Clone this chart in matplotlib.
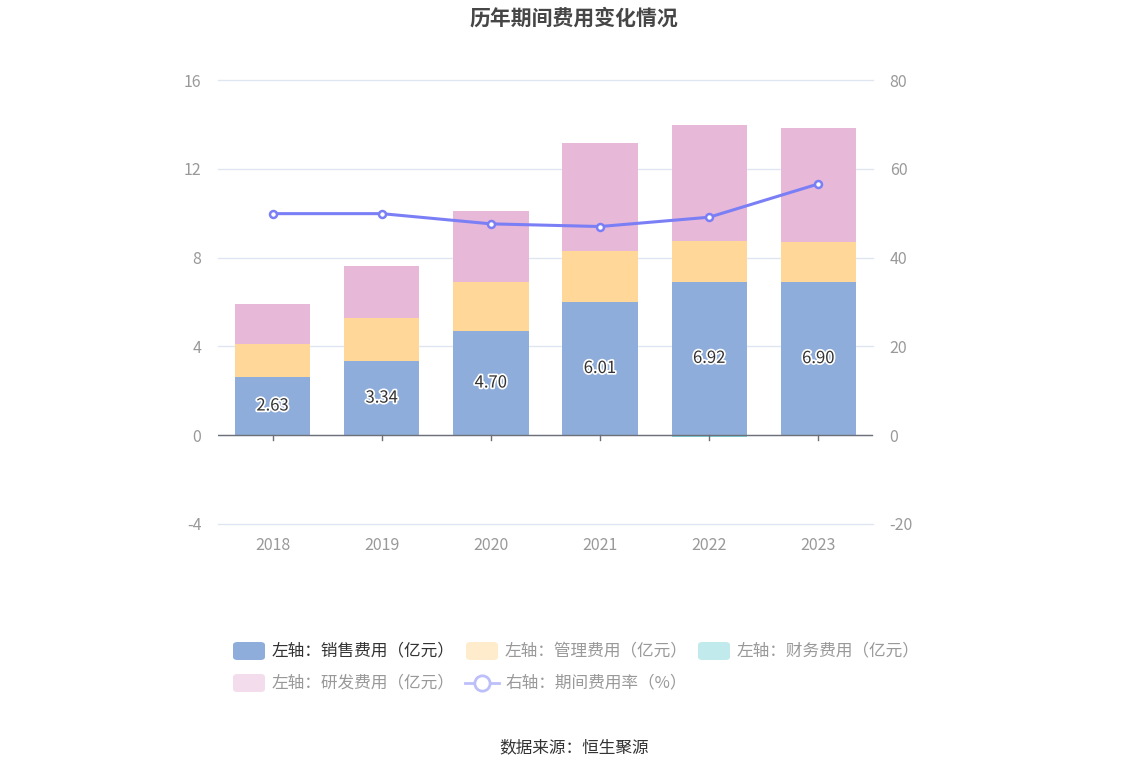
import numpy as np
import matplotlib
matplotlib.use("Agg")
from matplotlib import pyplot as plt
from matplotlib.patches import FancyBboxPatch
from matplotlib.lines import Line2D
import matplotlib.patheffects as pe

plt.rcParams["font.family"] = ["Noto Sans CJK SC", "DejaVu Sans"]
plt.rcParams["axes.unicode_minus"] = False

years = ["2018", "2019", "2020", "2021", "2022", "2023"]
sales = [2.63, 3.34, 4.70, 6.01, 6.92, 6.90]
admin = [1.46, 1.96, 2.22, 2.30, 1.84, 1.82]
finance = [0.0, 0.0, 0.0, -0.03, -0.08, -0.03]
research = [1.84, 2.30, 3.19, 4.86, 5.22, 5.12]
rate = [49.9, 49.9, 47.6, 47.0, 49.1, 56.6]

c_sales = "#8EADDB"
c_admin = "#FFD899"
c_fin = "#7ED3D6"
c_res = "#E7B8D8"
c_line = "#7B7FF5"

W, H = 1148, 776
fig = plt.figure(figsize=(W / 100, H / 100), dpi=100)
ax = fig.add_axes([218 / W, 1 - 524 / H, (873 - 218) / W, (524 - 80) / H])
ax2 = ax.twinx()

x = np.arange(len(years))
bw = 0.69
ax.bar(x, sales, bw, color=c_sales, zorder=3)
ax.bar(x, admin, bw, bottom=sales, color=c_admin, zorder=3)
pos_base = np.array(sales) + np.array(admin)
fin = np.array(finance)
ax.bar(x, fin, bw, bottom=np.where(fin > 0, pos_base, 0), color=c_fin, zorder=3)
res_base = pos_base + np.where(fin > 0, fin, 0)
ax.bar(x, research, bw, bottom=res_base, color=c_res, zorder=3)

for xi, v in zip(x, sales):
    ax.text(xi, v / 2, f"{v:.2f}", ha="center", va="center", fontsize=12,
            color="#333333", zorder=5,
            path_effects=[pe.withStroke(linewidth=2.5, foreground="white")])

ax.set_ylim(-4, 16)
ax.set_yticks([-4, 0, 4, 8, 12, 16])
ax2.set_ylim(-20, 80)
ax2.set_yticks([-20, 0, 20, 40, 60, 80])
ax.set_xlim(-0.5, len(years) - 0.5)
ax.set_xticks(x)
ax.set_xticklabels(years)

ax2.plot(x, rate, color=c_line, lw=2.2, marker="o", ms=5, mfc="white",
         mec=c_line, mew=1.8, zorder=6)

for a in (ax, ax2):
    for s in a.spines.values():
        s.set_visible(False)
ax.tick_params(axis="y", length=0, labelsize=11.5, labelcolor="#999999", pad=12)
ax2.tick_params(axis="y", length=0, labelsize=11.5, labelcolor="#999999", pad=12)
ax.tick_params(axis="x", length=0, labelsize=11.5, labelcolor="#999999", pad=9)
ax.grid(axis="y", color="#E0E6F1", lw=1, zorder=0)
for gl in ax.get_ygridlines():
    gl.set_clip_on(False)
ax.axhline(0, color="#6E7079", lw=1, zorder=4)
for xi in x:
    ax.plot([xi, xi], [0, -0.22], color="#6E7079", lw=1, zorder=4, clip_on=False)
ax.set_axisbelow(True)

fig.text(574 / W, 1 - 18 / H, "历年期间费用变化情况", ha="center", va="center",
         fontsize=15, fontweight="bold", color="#464646")
fig.text(574 / W, 1 - 748 / H, "数据来源：恒生聚源", ha="center", va="center",
         fontsize=12, color="#333333")

# legend drawn by hand
def legend_box(px, py, color, label, txtcolor):
    fig.add_artist(FancyBboxPatch((px / W, 1 - (py + 9) / H), 32 / W, 18 / H,
                                  boxstyle="round,pad=0,rounding_size=0.004",
                                  transform=fig.transFigure, color=color, lw=0))
    fig.text((px + 39) / W, 1 - py / H, label, ha="left", va="center",
             fontsize=12, color=txtcolor)

legend_box(233, 651, c_sales, "左轴：销售费用（亿元）", "#333333")
legend_box(466, 651, "#FFECCC", "左轴：管理费用（亿元）", "#999999")
legend_box(698, 651, "#C0EAEC", "左轴：财务费用（亿元）", "#999999")
legend_box(233, 683, "#F3DCEC", "左轴：研发费用（亿元）", "#999999")
fig.add_artist(Line2D([465 / W, 499 / W], [1 - 683 / H, 1 - 683 / H],
                      transform=fig.transFigure, color="#BDBFFA", lw=2))
fig.add_artist(Line2D([482 / W], [1 - 683 / H], transform=fig.transFigure,
                      marker="o", ms=11, mfc="white", mec="#BDBFFA", mew=2))
fig.text(505 / W, 1 - 683 / H, "右轴：期间费用率（%）", ha="left", va="center",
         fontsize=12, color="#999999")

fig.savefig("out.png", dpi=100)
